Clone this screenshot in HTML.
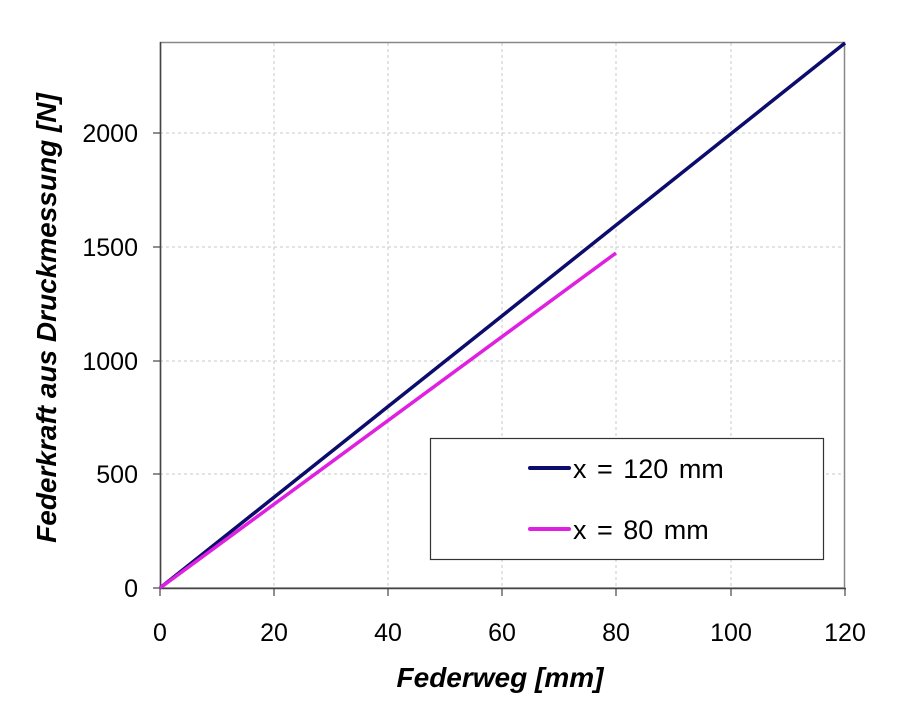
<!DOCTYPE html>
<html><head><meta charset="utf-8"><style>body{margin:0;background:#fff}svg{display:block}</style></head><body>
<svg width="901" height="716" viewBox="0 0 901 716" font-family="Liberation Sans, sans-serif">
<rect width="901" height="716" fill="#fff"/>
<g stroke="#c8c8c8" stroke-width="1" stroke-dasharray="3,3">
<line x1="274" y1="43" x2="274" y2="588"/><line x1="388" y1="43" x2="388" y2="588"/><line x1="502" y1="43" x2="502" y2="588"/><line x1="616" y1="43" x2="616" y2="588"/><line x1="731" y1="43" x2="731" y2="588"/>
<line x1="160" y1="474" x2="845" y2="474"/><line x1="160" y1="361" x2="845" y2="361"/><line x1="160" y1="247" x2="845" y2="247"/><line x1="160" y1="133" x2="845" y2="133"/>
</g>
<rect x="160.5" y="42.5" width="684" height="545.5" fill="none" stroke="#888" stroke-width="1.5"/>
<line x1="160.5" y1="42" x2="160.5" y2="589" stroke="#444" stroke-width="1.5"/>
<line x1="160" y1="588.5" x2="846" y2="588.5" stroke="#444" stroke-width="1.5"/>
<g stroke="#444" stroke-width="1.2">
<line x1="153" y1="588" x2="160" y2="588"/><line x1="153" y1="474" x2="160" y2="474"/><line x1="153" y1="361" x2="160" y2="361"/><line x1="153" y1="247" x2="160" y2="247"/><line x1="153" y1="133" x2="160" y2="133"/>
<line x1="160" y1="588" x2="160" y2="596"/><line x1="274" y1="588" x2="274" y2="596"/><line x1="388" y1="588" x2="388" y2="596"/><line x1="502" y1="588" x2="502" y2="596"/><line x1="616" y1="588" x2="616" y2="596"/><line x1="731" y1="588" x2="731" y2="596"/><line x1="845" y1="588" x2="845" y2="596"/>
</g>
<g font-size="25" fill="#000" text-anchor="end">
<text x="138" y="597">0</text><text x="138" y="483">500</text><text x="138" y="370">1000</text><text x="138" y="256">1500</text><text x="138" y="142">2000</text>
</g>
<g font-size="25" fill="#000" text-anchor="middle">
<text x="160" y="641">0</text><text x="274" y="641">20</text><text x="388" y="641">40</text><text x="502" y="641">60</text><text x="616" y="641">80</text><text x="731" y="641">100</text><text x="845" y="641">120</text>
</g>
<text x="500" y="687" font-size="28" font-weight="bold" font-style="italic" text-anchor="middle">Federweg [mm]</text>
<text transform="translate(56,318) rotate(-90)" font-size="28" font-weight="bold" font-style="italic" text-anchor="middle">Federkraft aus Druckmessung [N]</text>
<line x1="160" y1="588" x2="845" y2="43" stroke="#0c0c6c" stroke-width="3.5"/>
<line x1="160" y1="588" x2="616" y2="253" stroke="#e020e0" stroke-width="3.5"/>
<rect x="430.5" y="438.5" width="393" height="121" fill="#fff" stroke="#333" stroke-width="1.2"/>
<line x1="530" y1="468" x2="569" y2="468" stroke="#0c0c6c" stroke-width="4" stroke-linecap="round"/>
<line x1="530" y1="529" x2="569" y2="529" stroke="#e020e0" stroke-width="4" stroke-linecap="round"/>
<text x="573" y="478" font-size="27" word-spacing="3">x = 120 mm</text>
<text x="573" y="539" font-size="27" word-spacing="3">x = 80 mm</text>
</svg>
</body></html>
